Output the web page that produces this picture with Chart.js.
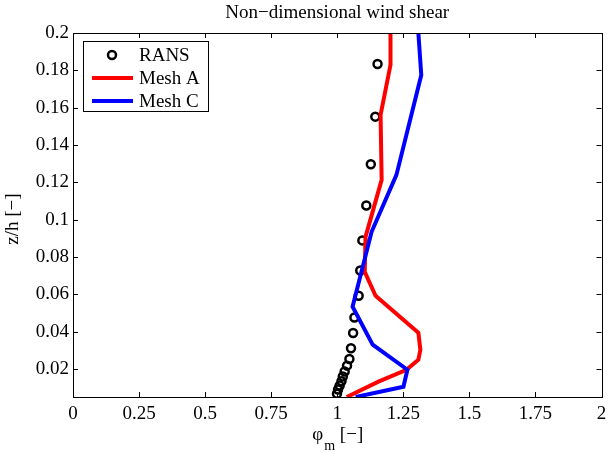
<!DOCTYPE html>
<html><head><meta charset="utf-8">
<script src="https://cdn.jsdelivr.net/npm/chart.js@4.4.0/dist/chart.umd.min.js"></script>
<style>html,body{margin:0;padding:0;background:#fff}#wrap{width:608px;height:454px}</style>
</head><body><div id="wrap"><canvas id="c" width="608" height="454"></canvas></div>
<script>
const titleText = "Non\u2212dimensional wind shear";
const seriesNames = ["RANS", "Mesh A", "Mesh C"];
const ransX = [1.1525,1.144,1.127,1.110,1.095,1.087,1.081,1.065,1.060,1.052,1.046,1.037,1.028,1.021,1.016,1.009,1.003,0.999];
const ransY = [0.1834,0.1552,0.1297,0.1076,0.0889,0.0728,0.0592,0.0476,0.0393,0.0311,0.0254,0.0218,0.0187,0.0160,0.0134,0.0111,0.0090,0.0068];
const meshAX = [1.2015,1.2015,1.164,1.168,1.107,1.104,1.145,1.307,1.3145,1.307,1.262,1.156,1.036];
const meshAY = [0.2,0.1829,0.1561,0.1213,0.0908,0.0721,0.0592,0.0394,0.0303,0.0250,0.0196,0.0132,0.005];
const meshCX = [1.307,1.318,1.224,1.130,1.058,1.134,1.2655,1.2505,1.070];
const meshCY = [0.2,0.1775,0.124,0.0935,0.0534,0.033,0.0196,0.0105,0.005];
const xTicks = [0,0.25,0.5,0.75,1,1.25,1.5,1.75,2];
const xTickLabels = ["0","0.25","0.5","0.75","1","1.25","1.5","1.75","2"];
const yTicks = [0.02,0.04,0.06,0.08,0.1,0.12,0.14,0.16,0.18,0.2];
const yTickLabels = ["0.02","0.04","0.06","0.08","0.1","0.12","0.14","0.16","0.18","0.2"];

const pts = (xs, ys) => xs.map((x, i) => ({x: x, y: ys[i]}));
const FONT = "'Liberation Serif', 'Times New Roman', serif";
const FS = 19;

const decor = {
  id: 'decor',
  afterDatasetsDraw(chart) {
    const ctx = chart.ctx, a = chart.chartArea;
    const xs = chart.scales.x, ys = chart.scales.y;
    ctx.save();
    ctx.strokeStyle = '#000'; ctx.lineWidth = 1;
    const L = 5;
    ctx.beginPath();
    xTicks.forEach(v => {
      const p = Math.round(xs.getPixelForValue(v)) + 0.5;
      ctx.moveTo(p, a.bottom); ctx.lineTo(p, a.bottom - L);
      ctx.moveTo(p, a.top); ctx.lineTo(p, a.top + L);
    });
    yTicks.forEach(v => {
      const p = Math.round(ys.getPixelForValue(v)) + 0.5;
      ctx.moveTo(a.left, p); ctx.lineTo(a.left + L, p);
      ctx.moveTo(a.right, p); ctx.lineTo(a.right - L, p);
    });
    ctx.stroke();
    ctx.strokeRect(Math.round(a.left) + 0.5, Math.round(a.top) + 0.5, Math.round(a.right - a.left), Math.round(a.bottom - a.top));
    // title
    ctx.fillStyle = '#000';
    ctx.font = FS + 'px ' + FONT;
    ctx.textAlign = 'center'; ctx.textBaseline = 'middle';
    ctx.fillText(titleText, (a.left + a.right) / 2, 13);
    // x title with subscript
    const cx = (a.left + a.right) / 2;
    ctx.font = FS + 'px ' + FONT;
    const w1 = ctx.measureText('\u03c6').width;
    ctx.font = '14px ' + FONT;
    const w2 = ctx.measureText('m').width;
    ctx.font = FS + 'px ' + FONT;
    const w3 = ctx.measureText(' [\u2212]').width;
    let sx = cx - (w1 + w2 + w3) / 2;
    ctx.textAlign = 'left';
    ctx.fillText('\u03c6', sx, 435);
    ctx.font = '14px ' + FONT;
    ctx.fillText('m', sx + w1 + 1, 446);
    ctx.font = FS + 'px ' + FONT;
    ctx.fillText(' [\u2212]', sx + w1 + w2 + 1, 435);
    // y title
    ctx.save();
    ctx.translate(13, 219);
    ctx.rotate(-Math.PI / 2);
    ctx.textAlign = 'center';
    ctx.fillText('z/h [\u2212]', 0, 0);
    ctx.restore();
    // legend
    const bx = 83, by = 41, bw = 125, bh = 70;
    ctx.fillStyle = '#fff';
    ctx.fillRect(bx, by, bw, bh);
    ctx.strokeStyle = '#000'; ctx.lineWidth = 1;
    ctx.strokeRect(bx + 0.5, by + 0.5, bw, bh);
    const ds = chart.data.datasets;
    const rows = [55, 78, 101];
    ctx.font = FS + 'px ' + FONT; ctx.textAlign = 'left'; ctx.textBaseline = 'middle'; ctx.fillStyle = '#000';
    ds.forEach((d, i) => {
      const y = rows[i];
      if (i === 0) {
        ctx.beginPath(); ctx.arc(112, y, 4, 0, Math.PI * 2);
        ctx.lineWidth = 2.5; ctx.strokeStyle = d.borderColor; ctx.stroke();
      } else {
        ctx.beginPath(); ctx.moveTo(92, y); ctx.lineTo(133, y);
        ctx.lineWidth = 4; ctx.strokeStyle = d.borderColor; ctx.stroke();
      }
      ctx.fillText(d.label, 139, y + 1);
    });
    ctx.restore();
  }
};

new Chart(document.getElementById('c'), {
  type: 'line',
  data: {
    datasets: [
      {label: seriesNames[0], data: pts(ransX, ransY), showLine: false, borderColor: '#000', backgroundColor: 'rgba(0,0,0,0)', pointRadius: 4, pointBorderWidth: 2.5, pointStyle: 'circle', order: 3},
      {label: seriesNames[1], data: pts(meshAX, meshAY), borderColor: '#ff0000', borderWidth: 4, pointRadius: 0, tension: 0, fill: false, order: 2},
      {label: seriesNames[2], data: pts(meshCX, meshCY), borderColor: '#0000ff', borderWidth: 4, pointRadius: 0, tension: 0, fill: false, order: 1}
    ]
  },
  options: {
    responsive: false, animation: false,
    layout: {padding: {left: 0, top: 33, right: 4, bottom: 0}},
    plugins: {legend: {display: false}, tooltip: {enabled: false}, title: {display: false}},
    scales: {
      x: {
        type: 'linear', min: 0, max: 2,
        afterBuildTicks: s => { s.ticks = xTicks.map(v => ({value: v})); },
        afterFit: s => { s.height = 57; s.paddingLeft = 0; s.paddingRight = 0; },
        grid: {display: false, drawTicks: false},
        border: {display: false},
        ticks: {padding: 6, color: '#000', font: {family: FONT, size: FS}, maxRotation: 0, autoSkip: false,
                callback: (v, i) => xTickLabels[i]}
      },
      y: {
        type: 'linear', min: 0.005, max: 0.2,
        afterBuildTicks: s => { s.ticks = yTicks.map(v => ({value: v})); },
        afterFit: s => { s.width = 73; s.paddingTop = 0; s.paddingBottom = 0; },
        grid: {display: false, drawTicks: false},
        border: {display: false},
        ticks: {padding: 4, color: '#000', font: {family: FONT, size: FS}, autoSkip: false,
                callback: (v, i) => yTickLabels[i]}
      }
    }
  },
  plugins: [decor]
});
</script></body></html>
